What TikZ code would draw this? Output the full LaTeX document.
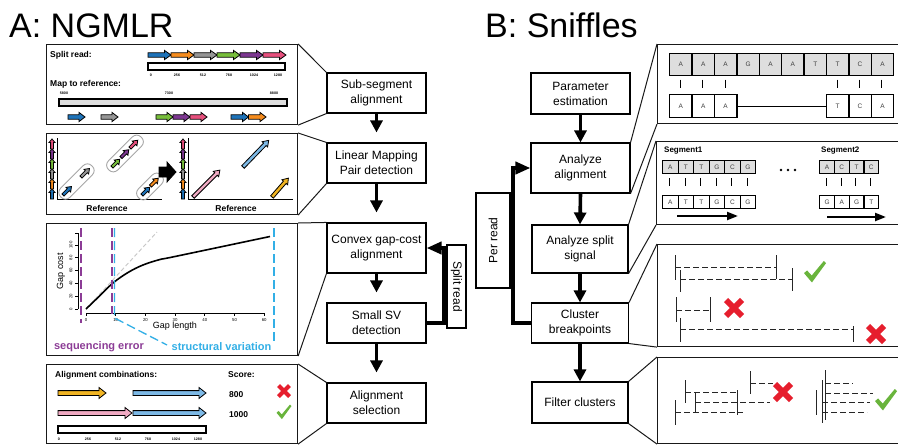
\documentclass[tikz,border=0pt]{standalone}
\usepackage{fontspec}
\setmainfont{Liberation Sans}
\usetikzlibrary{arrows.meta}

\definecolor{segblue}{RGB}{30,115,185}
\definecolor{segorange}{RGB}{245,140,30}
\definecolor{seggray}{RGB}{150,150,150}
\definecolor{seggreen}{RGB}{120,190,60}
\definecolor{segpurple}{RGB}{125,55,145}
\definecolor{segpink}{RGB}{230,80,125}
\definecolor{lmblue}{RGB}{125,185,230}
\definecolor{lmpink}{RGB}{240,170,195}
\definecolor{lmyellow}{RGB}{240,180,35}
\definecolor{errpurple}{RGB}{140,60,150}
\definecolor{svblue}{RGB}{50,175,230}
\definecolor{xred}{RGB}{230,30,45}
\definecolor{okgreen}{RGB}{105,180,60}
\definecolor{cellgray}{RGB}{222,222,222}

% outlined block arrow: fill, x, y, length, angle, body half-width, head half-width, head length
\newcommand{\blockarr}[8]{%
  \begin{scope}[shift={(#2,#3)},rotate=#5]
    \filldraw[fill=#1,draw=black,line width=0.8pt]
      (0,#6) -- ({#4-#8},#6) -- ({#4-#8},#7) -- (#4,0) -- ({#4-#8},-#7) -- ({#4-#8},-#6) -- (0,-#6) -- cycle;
  \end{scope}}

% red cross: x, y, half size
\newcommand{\redcross}[3]{%
  \begin{scope}[shift={(#1,#2)}]
    \draw[xred,line width=#3*0.72pt] (-#3,-#3) -- (#3,#3) (-#3,#3) -- (#3,-#3);
  \end{scope}}

% green tick mark: x, y, half size
\newcommand{\okcheck}[3]{%
  \begin{scope}[shift={(#1,#2)},scale=#3]
    \fill[okgreen] (-1,0.1) -- (-0.72,-0.14) -- (-0.3,0.32) -- (0.8,-1) -- (1,-0.8) -- (-0.28,0.95) -- cycle;
  \end{scope}}

% row of sequence cells: name prefix, x0, y top, cell width, cell height, fill, letters
\newcommand{\cellrow}[7]{%
  \foreach \c [count=\i from 0] in {#7} {
    \node[cell, fill=#6, minimum width=#4pt, minimum height=#5pt, anchor=north west]
      (#1\i) at ({#2+\i*#4},#3) {\c};
  }}

\tikzset{
  flowbox/.style={draw=black, line width=1.1pt, fill=white, align=center,
    font=\fontsize{12}{15}\selectfont, inner sep=0pt},
  panel/.style={draw=black!90, line width=1.1pt, inner sep=0pt},
  link/.style={draw=black!90, line width=1pt},
  flowarrow/.style={line width=3.6pt, -{Triangle[length=12pt,width=12pt]}},
  fbarrow/.style={line width=3.8pt, line join=miter, -{Triangle[length=15pt,width=12pt]}},
  lbl/.style={font=\fontsize{8.5}{10}\selectfont\bfseries, inner sep=0pt},
  tickl/.style={font=\fontsize{3.6}{4}\selectfont\bfseries, inner sep=0pt},
  axtick/.style={font=\fontsize{4.3}{5}\selectfont, inner sep=0pt},
  bar/.style={draw=black, line width=1.2pt, fill=white},
  capsule/.style={draw=gray!70, line width=0.9pt, rounded corners=6pt},
  axis/.style={draw=black, line width=1pt},
  cell/.style={draw=black, line width=1.3pt, inner sep=0pt,
    font=\fontsize{6.5}{7}\selectfont, text=black!75},
  pairbar/.style={draw=black, line width=0.9pt},
  brk/.style={draw=black!85, line width=0.9pt, dash pattern=on 6pt off 3pt},
  brktick/.style={draw=black!85, line width=1pt},
  title/.style={anchor=base west, inner sep=0pt, font=\fontsize{34}{34}\selectfont},
}

\begin{document}
\begin{tikzpicture}[x=1pt,y=-1pt]
\useasboundingbox (0,0) rectangle (898,445);
\clip (0,0) rectangle (898,445);
\fill[white] (0,0) rectangle (898,445);

% titles
\node[title] (titleA) at (9,37) {A: NGMLR};
\node[title] (titleB) at (485,37) {B: Sniffles};

% ---------------- NGMLR pipeline ----------------
\node[flowbox, minimum width=99pt, minimum height=40pt] (ssa) at (376.5,93) {Sub-segment\\alignment};
\node[flowbox, minimum width=99pt, minimum height=40pt] (lmp) at (376.5,163) {Linear Mapping\\Pair detection};
\node[flowbox, minimum width=99pt, minimum height=50pt] (cgc) at (376.5,248) {Convex gap-cost\\alignment};
\node[flowbox, minimum width=99pt, minimum height=40pt] (ssv) at (376.5,323) {Small SV\\detection};
\node[flowbox, minimum width=99pt, minimum height=40pt] (als) at (376.5,403) {Alignment\\selection};
\node[flowbox, minimum width=83pt, minimum height=19pt, rotate=-90] (splitrd) at (456.5,286.5) {Split read};

\draw[flowarrow, shorten >=10pt] (ssa.south) -- (lmp.north);
\draw[flowarrow, shorten >=10pt] (lmp.south) -- (cgc.north);
\draw[flowarrow, shorten >=10pt] (cgc.south) -- (ssv.north);
\draw[flowarrow, shorten >=10pt] (ssv.south) -- (als.north);
\coordinate (srx) at (444,0);
\draw[fbarrow] (ssv.east) -| (srx |- cgc.east) -- (cgc.east);

% detail panels
\node[panel, minimum width=251pt, minimum height=80pt, anchor=north west] (pa1) at (46,44) {};
\node[panel, minimum width=251pt, minimum height=81pt, anchor=north west] (pa2) at (46,133) {};
\node[panel, minimum width=251pt, minimum height=132pt, anchor=north west] (pa3) at (46,223) {};
\node[panel, minimum width=251pt, minimum height=79pt, anchor=north west] (pa4) at (46,364) {};

\draw[link] (pa1.north east) -- (ssa.north west) (pa1.south east) -- (ssa.south west);
\draw[link] (pa2.north east) -- (lmp.north west) (pa2.south east) -- (lmp.south west);
\draw[link] (pa3.north east) -- (cgc.north west) (pa3.south east) -- (cgc.south west);
\draw[link] (pa4.north east) -- (als.north west) (pa4.south east) -- (als.south west);

% panel A1: split read and sub-segment mapping
\node[lbl, anchor=west] (srlbl) at (50,55) {Split read:};
\foreach \c [count=\i from 0] in {segblue,segorange,seggray,seggreen,segpurple,segpink} {
  \blockarr{\c}{148+23*\i}{55}{23}{0}{2.2}{4.6}{6.5}
}
\draw[bar] (148,63) rectangle (285,70);
\foreach \t/\x [count=\k] in {0/151,256/177,512/203,768/229,1024/254,1280/278}
  \node[tickl] (sa\k) at (\x,75.5) {\t};
\node[lbl, anchor=west] (maplbl) at (50,84) {Map to reference:};
\foreach \t/\x [count=\k] in {5800/64,7300/169,8800/274}
  \node[tickl] (sb\k) at (\x,93) {\t};
\draw[bar, fill=cellgray] (59,99) rectangle (287,106);
\blockarr{segblue}{68}{117}{17}{0}{2.2}{4.6}{6}
\blockarr{seggray}{101}{117}{17}{0}{2.2}{4.6}{6}
\blockarr{seggreen}{156}{117}{17}{0}{2.2}{4.6}{6}
\blockarr{segpurple}{173}{117}{17}{0}{2.2}{4.6}{6}
\blockarr{segpink}{190}{117}{17}{0}{2.2}{4.6}{6}
\blockarr{segblue}{231}{117}{17.5}{0}{2.2}{4.6}{6}
\blockarr{segorange}{248.5}{117}{17.5}{0}{2.2}{4.6}{6}

% panel A2: linear mapping pairs
\foreach \c [count=\i from 0] in {segblue,segorange,seggray,seggreen,segpurple,segpink} {
  \blockarr{\c}{52}{199-10*\i}{10}{90}{1.4}{3}{3.5}
  \blockarr{\c}{183}{199-10*\i}{10}{90}{1.4}{3}{3.5}
}
\draw[axis] (57,138) -- (57,199) -- (162,199);
\draw[axis] (188,138) -- (188,199) -- (293,199);
\node[lbl] (ref1) at (107,208) {Reference};
\node[lbl] (ref2) at (236,208) {Reference};

\draw[capsule, rotate around={45:(76.5,181.5)}] (54.5,175) rectangle (98.5,188);
\draw[capsule, rotate around={45:(125,153.5)}] (102,147) rectangle (148,160);
\draw[capsule, rotate around={45:(150,186.5)}] (134,180) rectangle (166,193);
\blockarr{segblue}{63}{195}{12}{45}{1.5}{3.3}{4.5}
\blockarr{seggray}{81}{177}{12}{45}{1.5}{3.3}{4.5}
\blockarr{seggreen}{112}{167}{11}{45}{1.5}{3.3}{4.5}
\blockarr{segpurple}{121}{157.5}{11}{45}{1.5}{3.3}{4.5}
\blockarr{segpink}{130}{148}{11}{45}{1.5}{3.3}{4.5}
\blockarr{segblue}{142}{195}{11}{45}{1.5}{3.3}{4.5}
\blockarr{segorange}{150.5}{186}{11}{45}{1.5}{3.3}{4.5}

\blockarr{black}{159}{172}{17}{0}{5}{10}{9}

\blockarr{lmpink}{193}{197}{38}{45}{1.8}{3.8}{5.5}
\blockarr{lmblue}{243}{167}{37}{46}{1.8}{3.8}{5.5}
\blockarr{lmyellow}{272}{197}{25}{49}{1.8}{3.8}{5.5}

% panel A3: convex gap cost
\draw[axis, line width=0.8pt] (78,233) -- (78,309);
\foreach \v [count=\k] in {0,20,40,60,80,100} {
  \draw[axis, line width=0.8pt] (78,309-0.64*\v) -- (75,309-0.64*\v);
  \node[axtick, rotate=90] (gy\k) at (71,309-0.64*\v) {\v};
}
\draw[axis, line width=0.8pt] (78,233) -- (75,233);
\draw[axis, line width=0.8pt] (86,313) -- (265,313);
\foreach \v [count=\k] in {0,10,20,30,40,50,60} {
  \draw[axis, line width=0.8pt] (86+2.97*\v,313) -- (86+2.97*\v,316);
  \node[axtick] (gx\k) at (86+2.97*\v,320) {\v};
}
\node[rotate=90, inner sep=0pt, font=\fontsize{9}{10}\selectfont] (gcost) at (61,271) {Gap cost};
\node[inner sep=0pt, font=\fontsize{9}{10}\selectfont] (glen) at (175,326) {Gap length};
\draw[gray!45, line width=0.9pt, dash pattern=on 4pt off 2.5pt] (86,309) -- (157,232);
\draw[black, line width=1.6pt] plot[smooth, tension=0.6] coordinates
  {(86,309) (99,296.5) (113,283) (128,272.5) (143,265) (160,259.5) (175,256.5) (270,236.5)};
\draw[errpurple, line width=1.3pt, dash pattern=on 9pt off 4pt] (81,228) -- (81,323);
\draw[errpurple, line width=1.3pt, dash pattern=on 9pt off 4pt] (112,228) -- (112,314);
\draw[svblue, line width=1.3pt, dash pattern=on 9pt off 4pt] (114.5,228) -- (114.5,318) -- (167,345);
\draw[svblue, line width=1.3pt, dash pattern=on 9pt off 4pt] (274,228) -- (274,343);
\node[inner sep=0pt, font=\fontsize{11}{12}\selectfont\bfseries, text=errpurple] (seqerr) at (99,347) {sequencing error};
\node[inner sep=0pt, font=\fontsize{11}{12}\selectfont\bfseries, text=svblue] (strvar) at (221.5,347) {structural variation};

% panel A4: alignment selection
\node[lbl, anchor=west] (alcomb) at (55,375) {Alignment combinations:};
\node[lbl, anchor=west] (score) at (228,375) {Score:};
\blockarr{lmyellow}{58}{393}{48}{0}{2.4}{5.5}{7}
\blockarr{lmblue}{133}{393}{73}{0}{2.4}{5.5}{7}
\blockarr{lmpink}{58}{413}{74}{0}{2.4}{5.5}{7}
\blockarr{lmblue}{133}{413}{73}{0}{2.4}{5.5}{7}
\draw[bar] (58,426) rectangle (206,433);
\foreach \t/\x [count=\k] in {0/59,256/88,512/118,768/148,1024/176,1280/198}
  \node[tickl] (sc\k) at (\x,439) {\t};
\node[lbl, anchor=west] (s800) at (229,395) {800};
\node[lbl, anchor=west] (s1000) at (229,415) {1000};
\redcross{284}{391}{5.5}
\okcheck{284}{412}{7.5}

% ---------------- Sniffles pipeline ----------------
\node[flowbox, minimum width=99pt, minimum height=41pt] (par) at (580.5,93.5) {Parameter\\estimation};
\node[flowbox, minimum width=99pt, minimum height=50pt] (ana) at (580.5,168) {Analyze\\alignment};
\node[flowbox, minimum width=96pt, minimum height=48pt] (ass) at (580,249) {Analyze split\\signal};
\node[flowbox, minimum width=97pt, minimum height=40pt] (clb) at (580,323) {Cluster\\breakpoints};
\node[flowbox, minimum width=96pt, minimum height=41pt] (flc) at (580,402.5) {Filter clusters};
\node[flowbox, minimum width=95pt, minimum height=34pt, rotate=90] (perrd) at (493,240.5) {Per read};

\draw[flowarrow] (par.south) -- (ana.north);
\draw[flowarrow] (ana.south) -- (ass.north);
\draw[flowarrow] (ass.south) -- (clb.north);
\draw[flowarrow] (clb.south) -- (flc.north);
\coordinate (prx) at (513,0);
\draw[fbarrow] (clb.west) -| (prx |- ana.west) -- (ana.west);

% detail panels
\node[panel, minimum width=260pt, minimum height=79pt, anchor=north west] (pb1) at (657,44) {};
\node[panel, minimum width=260pt, minimum height=83pt, anchor=north west] (pb2) at (656,141) {};
\node[panel, minimum width=260pt, minimum height=102pt, anchor=north west] (pb3) at (657,244) {};
\node[panel, minimum width=260pt, minimum height=86pt, anchor=north west] (pb4) at (657,357) {};

\draw[link] (pb1.north west) -- (ana.north east) (pb1.south west) -- (ana.south east);
\draw[link] (pb2.north west) -- (ass.north east) (pb2.south west) -- (ass.south east);
\draw[link] (pb3.north west) -- (clb.north east) (pb3.south west) -- (clb.south east);
\draw[link] (pb4.north west) -- (flc.north east) (pb4.south west) -- (flc.south east);

% panel B1: alignment with a deletion
\cellrow{ra}{669}{53}{22.4}{22}{cellgray}{A,A,A,G,A,A,T,T,C,A}
\foreach \i in {0,1,2,7,8,9}
  \draw[pairbar] (680.2+22.4*\i,79.5) -- (680.2+22.4*\i,87.5);
\cellrow{rb}{669}{94}{22.4}{23}{white}{A,A,A}
\cellrow{rc}{825.8}{94}{22.4}{23}{white}{T,C,A}
\draw[line width=1.1pt] (rb2.east) -- (rc0.west);

% panel B2: split read segments
\node[lbl, anchor=west, font=\fontsize{8}{9}\selectfont\bfseries] (seg1) at (664,151) {Segment1};
\cellrow{sa}{662}{160}{15.5}{12.5}{cellgray}{A,T,T,G,C,G}
\foreach \i in {0,...,5}
  \draw[pairbar] (669.75+15.5*\i,178) -- (669.75+15.5*\i,186);
\cellrow{sb}{662}{195}{15.5}{12.5}{white}{A,T,T,G,C,G}
\draw[line width=2.2pt, -{Triangle[length=11pt,width=8pt]}] (677,216) -- (738,216);
\foreach \x in {781,788,795} \fill (\x,170) circle (1.4);
\node[lbl, anchor=west, font=\fontsize{8}{9}\selectfont\bfseries] (seg2) at (821,151) {Segment2};
\cellrow{sc}{819}{160}{14.75}{12.5}{cellgray}{A,C,T,C}
\foreach \i in {0,...,3}
  \draw[pairbar] (826.4+14.75*\i,178) -- (826.4+14.75*\i,186);
\cellrow{sd}{819}{195}{14.75}{12.5}{white}{G,A,G,T}
\draw[line width=2.2pt, -{Triangle[length=11pt,width=8pt]}] (827,217) -- (886,217);

% panel B3: breakpoint clusters
\draw[brktick] (675,255) -- (675,280) (776,255) -- (776,279);
\draw[brk] (675,267) -- (776,267);
\draw[brktick] (680,270) -- (680,292) (792,268) -- (792,291);
\draw[brk] (680,279) -- (792,279);
\okcheck{815}{272}{11}
\draw[brktick] (676,297) -- (676,322) (710,297) -- (710,322);
\draw[brk] (676,310) -- (710,310);
\redcross{734}{308}{8}
\draw[brktick] (680,318) -- (680,342) (853,326) -- (853,342);
\draw[brk] (680,329) -- (853,329);
\redcross{876}{334}{8}

% panel B4: cluster filtering
\draw[brktick] (750,371) -- (750,394);
\draw[brk] (750,383) -- (773,383);
\draw[brktick] (685,380) -- (685,403) (737,390) -- (737,415);
\draw[brk] (685,392) -- (737,392);
\draw[brktick] (695,392) -- (695,413);
\draw[brk] (695,402) -- (770,402);
\draw[brktick] (675,400) -- (675,425);
\draw[brk] (675,412) -- (743,412);
\redcross{783}{392}{8}
\draw[brktick] (816,390) -- (816,415) (822,380) -- (822,423) (825,370) -- (825,420);
\draw[brk] (825,383) -- (853,383);
\draw[brk] (825,393) -- (873,393);
\draw[brk] (822,402) -- (870,402);
\draw[brk] (822,412) -- (867,412);
\okcheck{886}{400}{11}

\end{tikzpicture}
\end{document}
